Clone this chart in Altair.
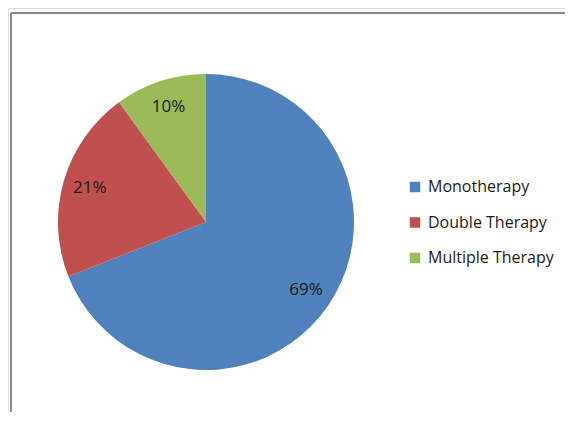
import altair as alt
import pandas as pd

categories = ["Monotherapy", "Double Therapy", "Multiple Therapy"]
values = [69, 21, 10]
labels = ["69%", "21%", "10%"]
colors = ["#4F81BD", "#C0504D", "#9BBB59"]

df = pd.DataFrame({"cat": categories, "val": values, "lab": labels, "ord": [0, 1, 2]})

CX, CY = 198, 214
base = alt.Chart(df).encode(
    theta=alt.Theta("val:Q", stack=True),
    order=alt.Order("ord:Q"),
)

arc = base.mark_arc(outerRadius=148, stroke=None).encode(
    x=alt.value(CX), y=alt.value(CY),
    color=alt.Color("cat:N", scale=alt.Scale(domain=categories, range=colors),
                    legend=alt.Legend(title=None, orient="none", legendX=399, legendY=171,
                                      symbolType="square", symbolSize=110, symbolStrokeWidth=0,
                                      labelFontSize=16, labelFont="Open Sans", labelColor="#1a1a1a",
                                      rowPadding=19.5, labelOffset=5)),
)

text = base.mark_text(radius=121, font="Open Sans", fontSize=17, color="#1a1a1a").encode(
    x=alt.value(CX), y=alt.value(CY), text="lab:N"
)

frame = pd.DataFrame({"a": [0]})
left = alt.Chart(frame).mark_rule(color="#8a8a8a", strokeWidth=2).encode(
    x=alt.value(3), y=alt.value(5), y2=alt.value(404))
top = alt.Chart(frame).mark_rule(color="#8a8a8a", strokeWidth=2).encode(
    x=alt.value(3), x2=alt.value(557), y=alt.value(5))

chart = alt.layer(arc, text, left, top).properties(
    width=557, height=404, padding=0, autosize=alt.AutoSizeParams(type="none")
).configure_view(stroke=None).configure(background="white")

chart.save("out.html", embed_options={"renderer": "svg", "actions": False})
